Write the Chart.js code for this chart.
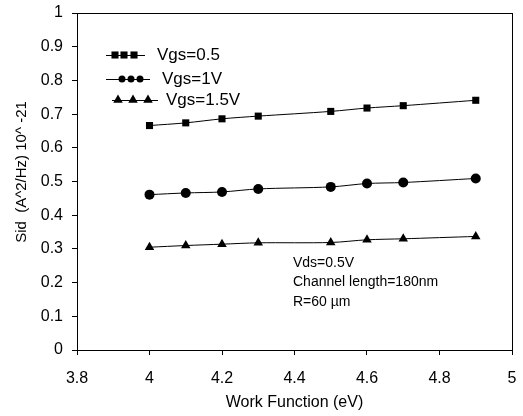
<!DOCTYPE html>
<html><head><meta charset="utf-8">
<script src="https://cdn.jsdelivr.net/npm/chart.js@4/dist/chart.umd.min.js"></script>
<style>html,body{margin:0;padding:0;background:#fff}#wrap{width:523px;height:416px}</style>
</head><body><div id="wrap"><canvas id="c" width="523" height="416"></canvas></div>
<script>
const workFunction = [4.0, 4.1, 4.2, 4.3, 4.5, 4.6, 4.7, 4.9];
const sidVgs05 = [0.666, 0.674, 0.686, 0.694, 0.708, 0.718, 0.725, 0.741];
const sidVgs1 = [0.461, 0.466, 0.469, 0.478, 0.484, 0.494, 0.497, 0.509];
const sidVgs15 = [0.305, 0.310, 0.314, 0.318, 0.319, 0.327, 0.330, 0.337];
const seriesLabels = ["Vgs=0.5", "Vgs=1V", "Vgs=1.5V"];
const noteLines = ["Vds=0.5V", "Channel length=180nm", "R=60 \u00b5m"];
const xTitle = "Work Function (eV)";
const yTitle = "Sid  (A^2/Hz) 10^ -21";

const FONT = "'Liberation Sans', Arial, sans-serif";
const pts = ys => workFunction.map((x, i) => ({x, y: ys[i]}));
const mk = (label, ys, style, r) => ({
  label, data: pts(ys), showLine: true, borderColor: '#000', borderWidth: 1,
  backgroundColor: '#000', pointStyle: style, pointRadius: r, pointHoverRadius: r,
  pointBorderWidth: 0, tension: 0.3
});

function drawMarker(ctx, style, r, x, y) {
  ctx.beginPath();
  if (style === 'rect') { const s = r * Math.SQRT1_2; ctx.rect(x - s, y - s, 2 * s, 2 * s); }
  else if (style === 'circle') { ctx.arc(x, y, r, 0, Math.PI * 2); }
  else { ctx.moveTo(x, y - r); ctx.lineTo(x + r * Math.sin(Math.PI / 3), y + r / 2); ctx.lineTo(x - r * Math.sin(Math.PI / 3), y + r / 2); ctx.closePath(); }
  ctx.fill();
}

const zeroPad = s => { s.paddingLeft = 0; s.paddingRight = 0; s.paddingTop = 0; s.paddingBottom = 0; };

const extras = {
  id: 'extras',
  afterDraw(chart) {
    const ctx = chart.ctx, a = chart.chartArea;
    ctx.save();
    ctx.strokeStyle = '#000'; ctx.lineWidth = 1;
    ctx.strokeRect(Math.round(a.left) + 0.5, Math.round(a.top) + 0.5, Math.round(a.right - a.left), Math.round(a.bottom - a.top));
    // legend
    const rows = [
      {y: 55, x1: 106, x2: 145, marks: [115, 124, 134], style: 'rect', r: 5, tx: 157},
      {y: 79, x1: 106, x2: 150, marks: [122, 131, 140], style: 'circle', r: 3.5, tx: 162},
      {y: 100, x1: 112, x2: 158, marks: [118, 133, 148], style: 'triangle', r: 5.5, tx: 166}
    ];
    ctx.fillStyle = '#000';
    ctx.font = '17px ' + FONT;
    ctx.textBaseline = 'middle';
    rows.forEach((rw, i) => {
      ctx.beginPath(); ctx.moveTo(rw.x1, rw.y + 0.5); ctx.lineTo(rw.x2, rw.y + 0.5); ctx.stroke();
      rw.marks.forEach(mx => drawMarker(ctx, rw.style, rw.r, mx, rw.y));
      ctx.fillText(seriesLabels[i], rw.tx, rw.y);
    });
    ctx.font = '14px ' + FONT;
    noteLines.forEach((t, i) => ctx.fillText(t, 293, 263 + i * 19.5));
    // y axis title
    ctx.font = '15px ' + FONT;
    ctx.textAlign = 'center';
    ctx.translate(22, 172);
    ctx.rotate(-Math.PI / 2);
    ctx.fillText(yTitle, 0, 0);
    ctx.restore();
  }
};

new Chart(document.getElementById('c'), {
  type: 'scatter',
  data: { datasets: [
    mk(seriesLabels[0], sidVgs05, 'rect', 5),
    mk(seriesLabels[1], sidVgs1, 'circle', 5),
    mk(seriesLabels[2], sidVgs15, 'triangle', 5.5)
  ]},
  options: {
    responsive: false, animation: false, devicePixelRatio: 1,
    layout: { padding: { top: 13, right: 11, left: 0, bottom: 0 } },
    plugins: { legend: { display: false }, tooltip: { enabled: false } },
    scales: {
      x: {
        type: 'linear', min: 3.8, max: 5,
        afterFit: s => { s.height = 66; zeroPad(s); },
        ticks: { stepSize: 0.2, color: '#000', font: { family: FONT, size: 16 }, padding: 14,
          callback: v => String(+v.toFixed(1)) },
        grid: { drawOnChartArea: false, drawTicks: true, tickLength: 5, tickColor: '#000' },
        border: { display: true, color: '#000', width: 1 },
        title: { display: true, text: xTitle, color: '#000', font: { family: FONT, size: 16 }, padding: { top: 4, bottom: 4 } }
      },
      y: {
        type: 'linear', min: 0, max: 1,
        afterFit: s => { s.width = 77; zeroPad(s); },
        ticks: { stepSize: 0.1, color: '#000', font: { family: FONT, size: 16 }, padding: 9,
          callback: v => String(+v.toFixed(1)) },
        grid: { drawOnChartArea: false, drawTicks: true, tickLength: 5, tickColor: '#000' },
        border: { display: true, color: '#000', width: 1 },
        title: { display: false, text: yTitle }
      }
    }
  },
  plugins: [extras]
});
</script></body></html>
